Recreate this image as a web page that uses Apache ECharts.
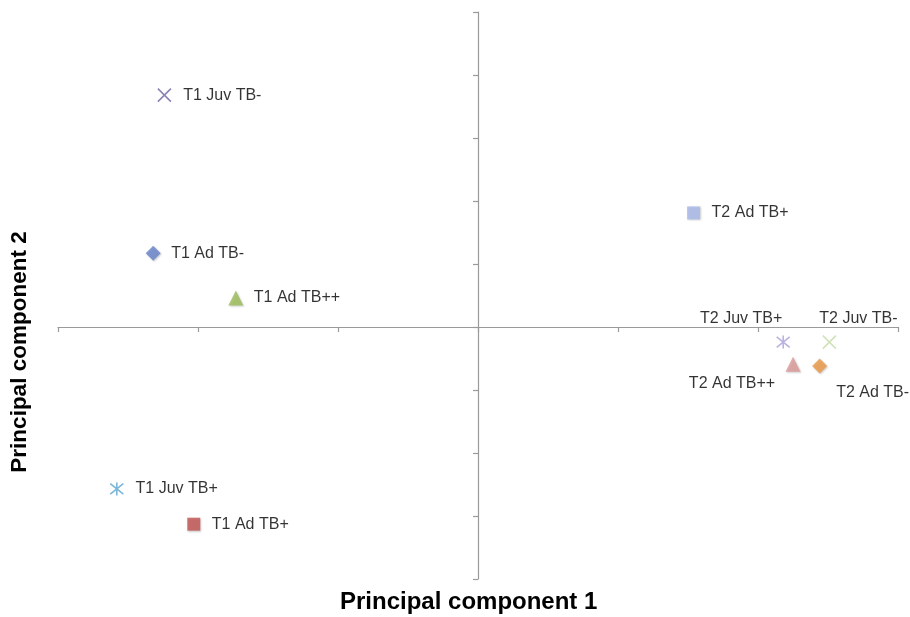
<!DOCTYPE html>
<html>
<head>
<meta charset="utf-8">
<script src="https://cdn.jsdelivr.net/npm/echarts@6/dist/echarts.min.js"></script>
<style>
  html, body { margin: 0; padding: 0; background: #fff; }
  #chart { width: 910px; height: 617px; }
</style>
</head>
<body>
<div id="chart"></div>
<script>
// Sample groups plotted on the first two principal components
const groups = ['T1 Juv TB-', 'T1 Ad TB-', 'T1 Ad TB++', 'T1 Juv TB+', 'T1 Ad TB+',
                'T2 Ad TB+', 'T2 Juv TB+', 'T2 Juv TB-', 'T2 Ad TB++', 'T2 Ad TB-'];
const pc1 = [-2.24, -2.32, -1.73, -2.58, -2.03, 1.54, 2.18, 2.51, 2.25, 2.44];
const pc2 = [3.68, 1.17, 0.46, -2.57, -3.13, 1.81, -0.24, -0.24, -0.59, -0.62];

const xMin = -3, xMax = 3, xStep = 1;
const yMin = -4, yMax = 5, yStep = 1;

const CROSS = 'path://M0,0L10,10M10,0L0,10';
const STAR = 'path://M0,0L10,10M10,0L0,10M5,-1.2L5,11.2';

// marker look for each group
const markers = [
  { symbol: CROSS,     size: 13, color: '#6f63a3', line: true },
  { symbol: 'diamond', size: 15, color: '#6582cc' },
  { symbol: 'triangle',size: 15, color: '#9bbd58' },
  { symbol: STAR,      size: 13, color: '#5aa5cc', line: true },
  { symbol: 'rect',    size: 13, color: '#c0504d' },
  { symbol: 'rect',    size: 13, color: '#a8b9ea' },
  { symbol: STAR,      size: 13, color: '#a99fd8', line: true },
  { symbol: CROSS,     size: 13, color: '#c4dba8', line: true },
  { symbol: 'triangle',size: 15, color: '#dc9897' },
  { symbol: 'diamond', size: 15, color: '#eb9843' }
];

// label placement: null = to the right of the marker, otherwise centre offset
const labelOffsets = [null, null, null, null, null, null,
                      [-42, -24], [29, -24], [-61, 19], [53, 27]];

const labelFont = { fontFamily: 'Liberation Sans, Arial, sans-serif', fontSize: 16, color: '#000' };

const series = groups.map((name, i) => {
  const m = markers[i];
  const off = labelOffsets[i];
  const label = off
    ? Object.assign({ show: true, position: 'inside', offset: off, formatter: name }, labelFont)
    : Object.assign({ show: true, position: 'right', distance: 18 - m.size / 2, formatter: name }, labelFont);
  return {
    name: name,
    type: 'scatter',
    symbol: m.symbol,
    symbolSize: m.size,
    data: [[pc1[i], pc2[i]]],
    itemStyle: m.line
      ? { color: m.color, borderColor: m.color, borderWidth: 1.6 }
      : { color: m.color, shadowColor: 'rgba(0,0,0,0.25)', shadowBlur: 2, shadowOffsetX: 1, shadowOffsetY: 1 },
    label: label,
    emphasis: { disabled: true }
  };
});

const axisLineStyle = { color: '#9a9a9a', width: 1.2 };

const chart = echarts.init(document.getElementById('chart'), null, { renderer: 'canvas' });
chart.setOption({
  animation: false,
  backgroundColor: '#ffffff',
  grid: { left: 58, right: 12, top: 12, bottom: 38 },
  xAxis: {
    type: 'value', min: xMin, max: xMax, interval: xStep,
    axisLine: { show: true, onZero: true, lineStyle: axisLineStyle },
    axisTick: { show: true, length: 5, lineStyle: axisLineStyle },
    axisLabel: { show: false },
    splitLine: { show: false }
  },
  yAxis: {
    type: 'value', min: yMin, max: yMax, interval: yStep,
    axisLine: { show: true, onZero: true, lineStyle: axisLineStyle },
    axisTick: { show: true, length: 5, lineStyle: axisLineStyle },
    axisLabel: { show: false },
    splitLine: { show: false }
  },
  graphic: [
    {
      type: 'text', left: 340, top: 590,
      style: { text: 'Principal component 1', font: 'bold 24px "Liberation Sans", Arial, sans-serif', fill: '#000' }
    },
    {
      type: 'text', x: 8, y: 352, rotation: Math.PI / 2,
      style: { text: 'Principal component 2', font: 'bold 22.5px "Liberation Sans", Arial, sans-serif', fill: '#000',
               align: 'center', verticalAlign: 'top' }
    }
  ],
  series: series
});
</script>
</body>
</html>
